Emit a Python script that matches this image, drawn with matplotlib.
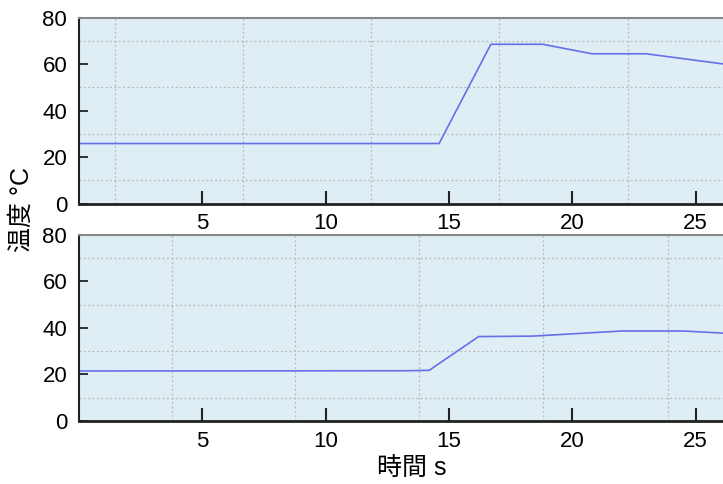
import matplotlib
matplotlib.use("Agg")
import matplotlib.pyplot as plt
from matplotlib.ticker import FixedLocator

plt.rcParams['font.family'] = ['Liberation Sans', 'Noto Sans CJK JP', 'DejaVu Sans']

# temperature traces
time_top = [0, 14.6, 16.7, 18.8, 20.8, 23.0, 27.0]
temp_top = [25.8, 25.8, 68.5, 68.5, 64.4, 64.4, 58.8]

time_bottom = [0, 13.2, 14.2, 16.2, 18.4, 22.0, 24.5, 27.0]
temp_bottom = [21.5, 21.6, 21.8, 36.3, 36.5, 38.7, 38.7, 37.3]

x_ticks = [5, 10, 15, 20, 25]
y_ticks = [0, 20, 40, 60, 80]

# vertical background grid does not line up with the ticks
grid_x_top = [1.45, 6.63, 11.85, 17.03, 22.25]
grid_x_bottom = [3.75, 8.77, 13.8, 18.8, 23.9]
grid_y = [10, 20, 30, 40, 50, 60, 70]

line_color = '#6670e8'
bg_color = '#dfedf4'

fig = plt.figure(figsize=(7.23, 4.84), dpi=100)
ax_top = fig.add_axes([0.1093, 0.5795, 0.921, 0.3843])
ax_bot = fig.add_axes([0.1093, 0.1302, 0.921, 0.3843])

panels = [(ax_top, time_top, temp_top, grid_x_top),
          (ax_bot, time_bottom, temp_bottom, grid_x_bottom)]

for ax, t, v, gx in panels:
    ax.set_facecolor(bg_color)
    ax.plot(t, v, color=line_color, lw=1.2)
    ax.set_xlim(0, 27)
    ax.set_ylim(0, 80)
    ax.set_xticks(x_ticks)
    ax.set_yticks(y_ticks)
    ax.xaxis.set_minor_locator(FixedLocator(gx))
    ax.yaxis.set_minor_locator(FixedLocator(grid_y))
    ax.grid(which='minor', color='#b8b8b8', ls=(0, (1.5, 2)), lw=0.9)
    ax.tick_params(axis='x', which='major', direction='in', length=9.5,
                   width=1.5, color='#222222', labelsize=16, pad=7)
    ax.tick_params(axis='y', which='major', direction='in', length=6.5,
                   width=1.3, color='#222222', labelsize=16, pad=8.5)
    ax.tick_params(which='minor', length=0)
    ax.spines['right'].set_visible(False)
    ax.spines['top'].set_color('#888888')
    ax.spines['top'].set_linewidth(1.5)
    ax.spines['left'].set_color('#222222')
    ax.spines['left'].set_linewidth(1.5)
    ax.spines['bottom'].set_color('#222222')
    ax.spines['bottom'].set_linewidth(2.0)

ax_bot.set_xlabel('時間 s', fontsize=18, labelpad=3)
fig.text(0.03, 0.567, '温度 °C', rotation=90, fontsize=18,
         ha='center', va='center')

fig.savefig('out.png', dpi=100)
